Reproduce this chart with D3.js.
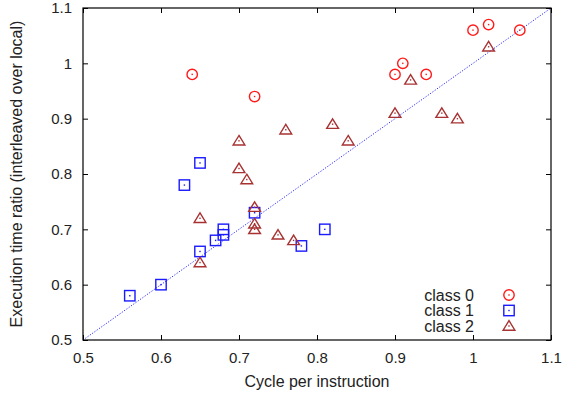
<!DOCTYPE html>
<html>
<head>
<meta charset="utf-8">
<script src="https://cdn.jsdelivr.net/npm/d3@7"></script>
<style>
  html, body { margin: 0; padding: 0; background: #fff; }
  svg { display: block; }
  text { font-family: "Liberation Sans", Arial, Helvetica, sans-serif; fill: #222; }
</style>
</head>
<body>
<svg id="chart" width="563" height="397"></svg>
<script>
// ---- data ----
const seriesNames = ["class 0", "class 1", "class 2"];
const class0X = [0.64, 0.72, 0.90, 0.91, 0.94, 1.00, 1.02, 1.06];
const class0Y = [0.98, 0.94, 0.98, 1.00, 0.98, 1.06, 1.07, 1.06];
const class1X = [0.65, 0.63, 0.72, 0.68, 0.68, 0.67, 0.65, 0.60, 0.56, 0.78, 0.81];
const class1Y = [0.82, 0.78, 0.73, 0.70, 0.69, 0.68, 0.66, 0.60, 0.58, 0.67, 0.70];
const class2X = [1.02, 0.92, 0.90, 0.96, 0.98, 0.82, 0.84, 0.76, 0.70, 0.70, 0.71, 0.72, 0.72, 0.72, 0.65, 0.75, 0.77, 0.65];
const class2Y = [1.03, 0.97, 0.91, 0.91, 0.90, 0.89, 0.86, 0.88, 0.86, 0.81, 0.79, 0.74, 0.71, 0.70, 0.72, 0.69, 0.68, 0.64];
const xTicks = [0.5, 0.6, 0.7, 0.8, 0.9, 1.0, 1.1];
const yTicks = [0.5, 0.6, 0.7, 0.8, 0.9, 1.0, 1.1];
const xLabel = "Cycle per instruction";
const yLabel = "Execution time ratio (interleaved over local)";

// ---- layout ----
const W = 563, H = 397;
const L = 83, R = 551, T = 8, B = 340;
const svg = d3.select("#chart");

const x = d3.scaleLinear().domain([0.5, 1.1]).range([L, R]);
const y = d3.scaleLinear().domain([0.5, 1.1]).range([B, T]);

const fmt = d => (d === 1 ? "1" : d3.format(".1f")(d));

// diagonal y = x
svg.append("line")
  .attr("x1", x(0.5)).attr("y1", y(0.5))
  .attr("x2", x(1.1)).attr("y2", y(1.1))
  .attr("stroke", "#2a2aff").attr("stroke-width", 1)
  .attr("stroke-dasharray", "1.2,1.6");

// axes with inward ticks
const tickLen = 5;
const axB = svg.append("g").attr("transform", `translate(0,${B})`)
  .call(d3.axisBottom(x).tickValues(xTicks).tickFormat(fmt).tickSize(-tickLen).tickPadding(12));
const axT = svg.append("g").attr("transform", `translate(0,${T})`)
  .call(d3.axisTop(x).tickValues(xTicks).tickFormat("").tickSize(-tickLen));
const axL = svg.append("g").attr("transform", `translate(${L},0)`)
  .call(d3.axisLeft(y).tickValues(yTicks).tickFormat(fmt).tickSize(-tickLen).tickPadding(11));
const axR = svg.append("g").attr("transform", `translate(${R},0)`)
  .call(d3.axisRight(y).tickValues(yTicks).tickFormat("").tickSize(-tickLen));
[axB, axT, axL, axR].forEach(g => {
  g.select(".domain").remove();
  g.selectAll(".tick line").attr("stroke", "#000").attr("stroke-width", 1);
  g.selectAll("text").attr("font-size", 15).attr("fill", "#222")
    .attr("font-family", "'Liberation Sans', Arial, sans-serif");
});

// frame
svg.append("rect").attr("x", L).attr("y", T).attr("width", R - L).attr("height", B - T)
  .attr("fill", "none").attr("stroke", "#000").attr("stroke-width", 1.2);

// axis labels
svg.append("text").attr("x", (L + R) / 2).attr("y", 387)
  .attr("text-anchor", "middle").attr("font-size", 16).text(xLabel);
svg.append("text").attr("transform", `translate(22,${(T + B) / 2}) rotate(-90)`)
  .attr("text-anchor", "middle").attr("font-size", 16).text(yLabel);

// markers
const colors = ["#ff1a1a", "#1a1aff", "#a83232"];
function drawMarker(g, type, cx, cy, color) {
  const sw = 1.4;
  if (type === 0) {
    g.append("circle").attr("cx", cx).attr("cy", cy).attr("r", 5.2)
      .attr("fill", "none").attr("stroke", color).attr("stroke-width", sw);
  } else if (type === 1) {
    g.append("rect").attr("x", cx - 5.2).attr("y", cy - 5.2).attr("width", 10.4).attr("height", 10.4)
      .attr("fill", "none").attr("stroke", color).attr("stroke-width", sw);
  } else {
    const s = 5.6;
    g.append("path")
      .attr("d", `M${cx},${cy - s * 0.95}L${cx + s * 1.05},${cy + s * 0.75}L${cx - s * 1.05},${cy + s * 0.75}Z`)
      .attr("fill", "none").attr("stroke", color).attr("stroke-width", sw);
  }
  g.append("rect").attr("x", cx - 0.7).attr("y", cy - 0.7).attr("width", 1.4).attr("height", 1.4)
    .attr("fill", color);
}

const allSeries = [[class0X, class0Y], [class1X, class1Y], [class2X, class2Y]];
const pts = svg.append("g");
allSeries.forEach(([xs, ys], i) => {
  const gi = pts.append("g");
  xs.forEach((xv, j) => drawMarker(gi, i, x(xv), y(ys[j]), colors[i]));
});

// legend
const leg = svg.append("g");
seriesNames.forEach((name, i) => {
  const ly = 295 + i * 15.5;
  leg.append("text").attr("x", 474).attr("y", ly + 5.5)
    .attr("text-anchor", "end").attr("font-size", 16).text(name);
  drawMarker(leg, i, 509, ly, colors[i]);
});
</script>
</body>
</html>
